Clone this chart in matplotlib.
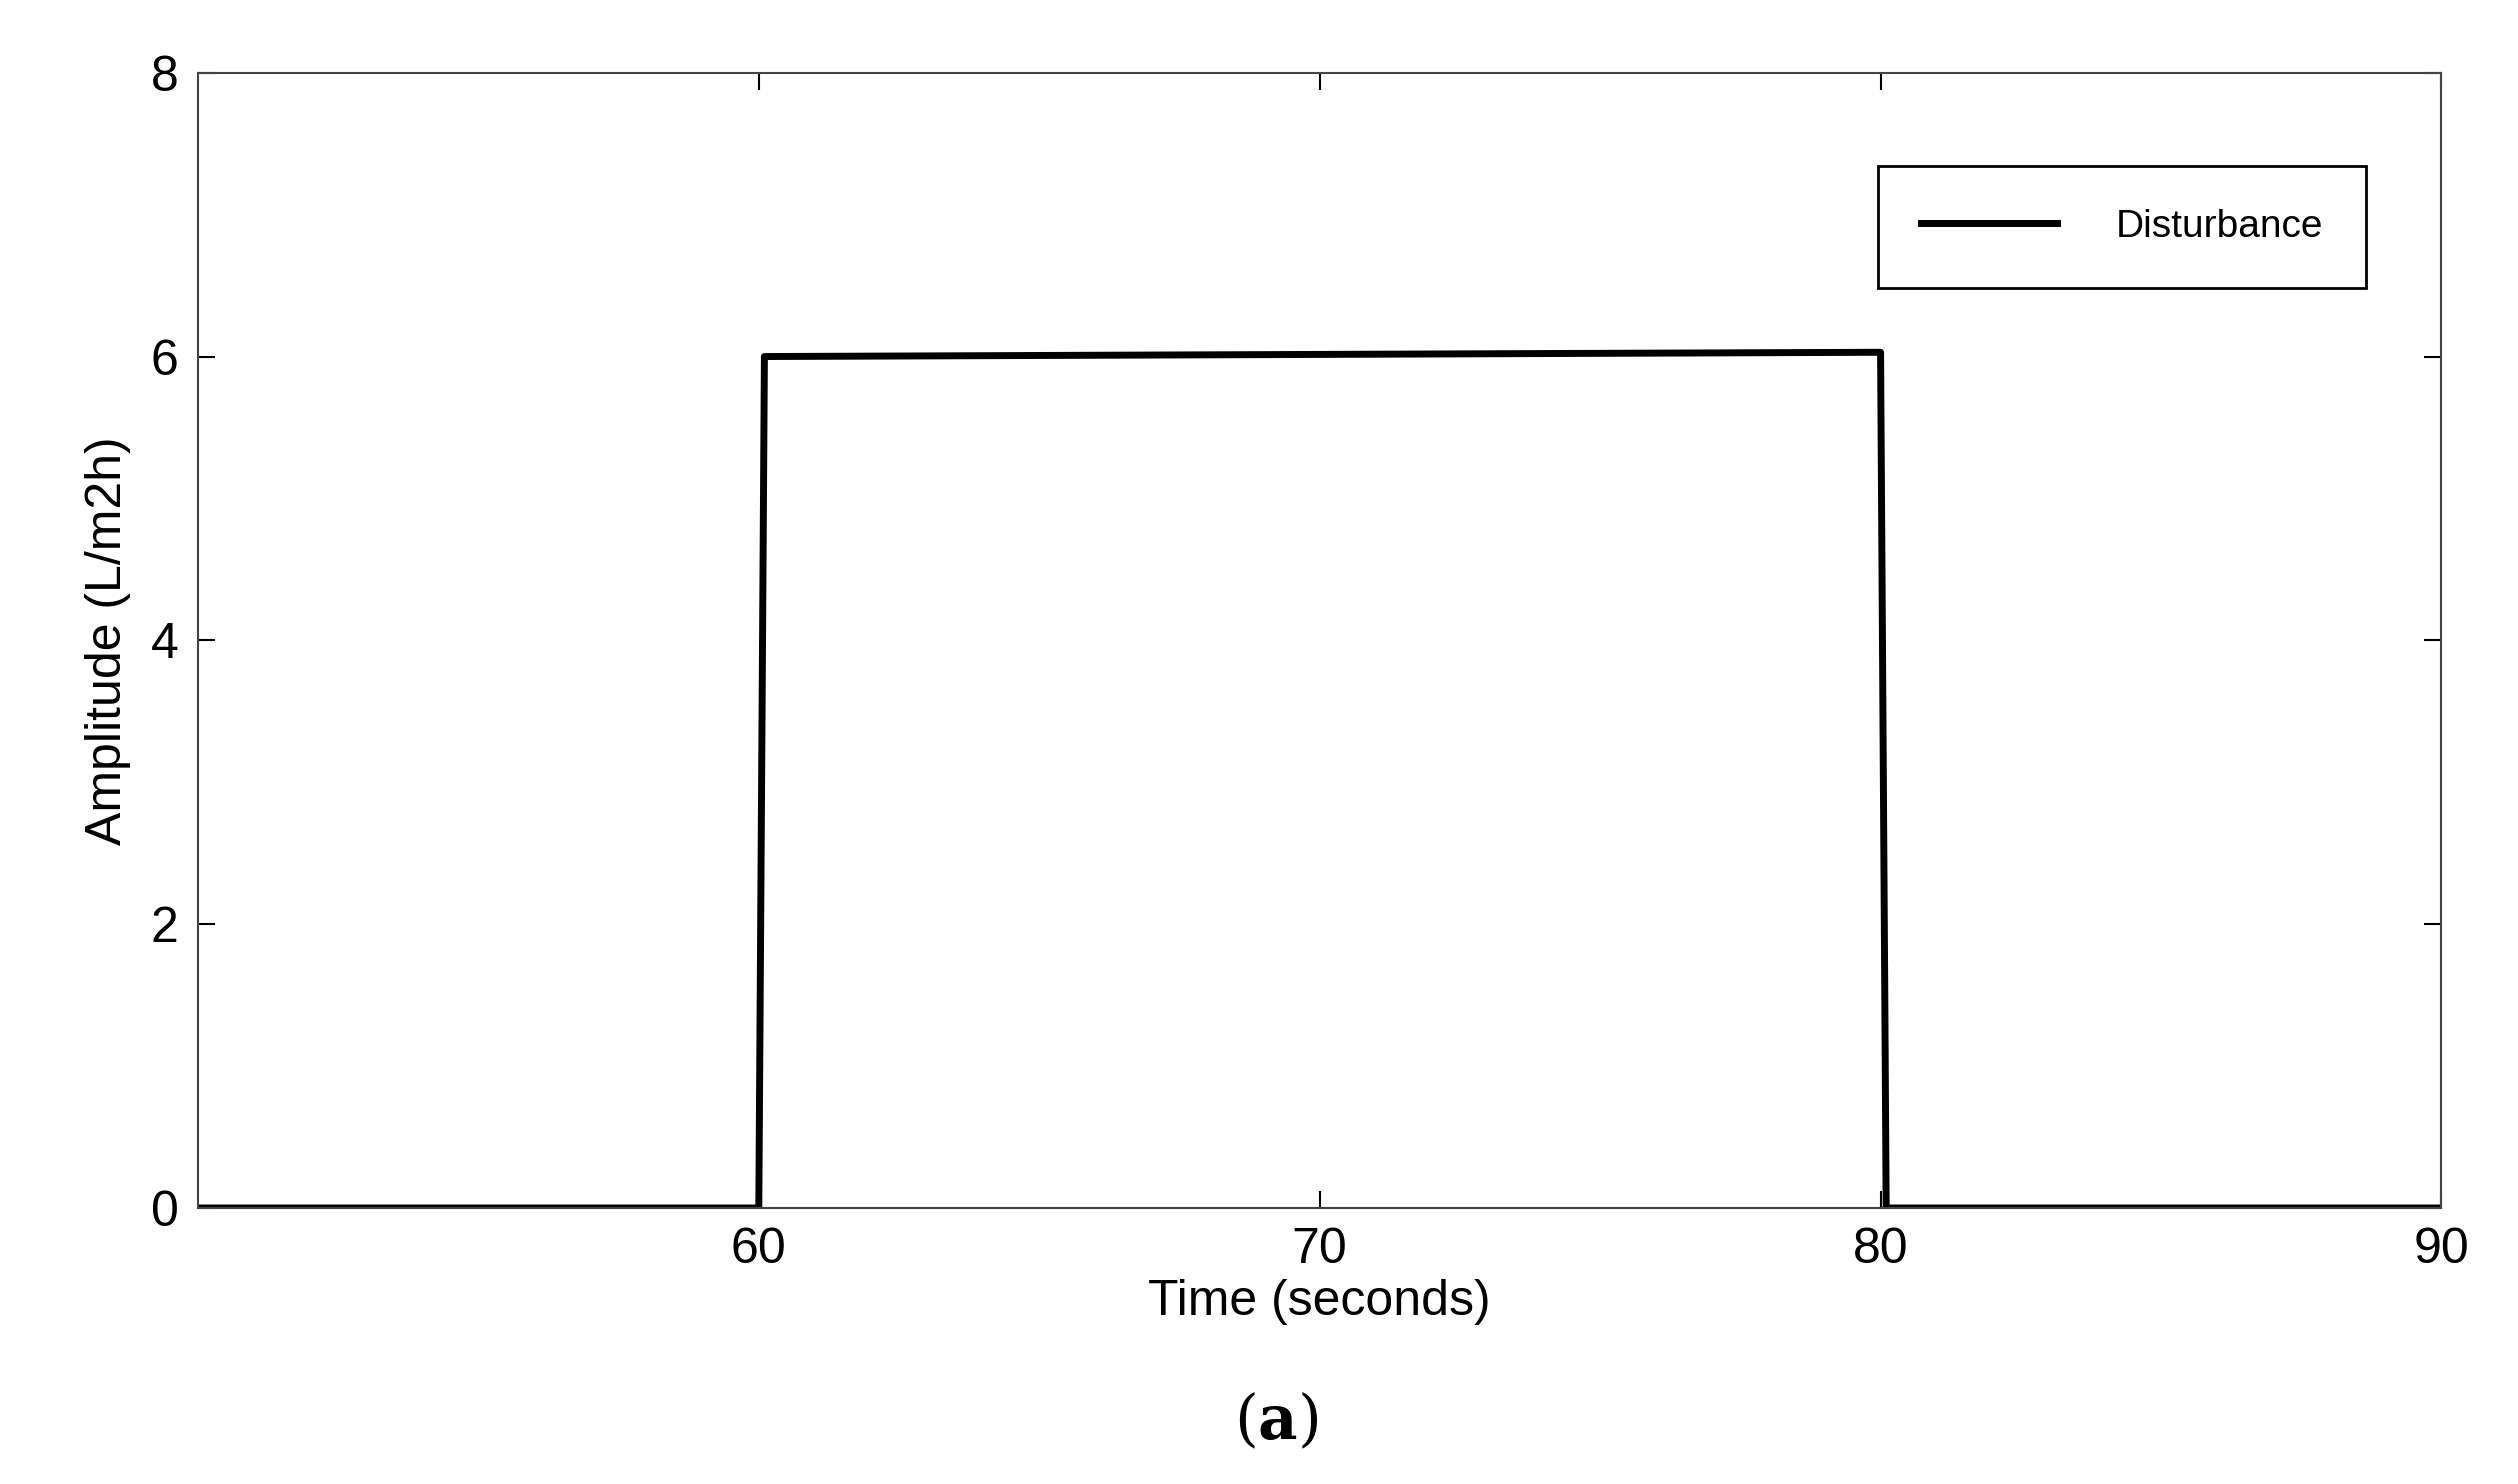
import numpy as np
import matplotlib.pyplot as plt

plt.rcParams['font.family'] = ['Liberation Sans', 'DejaVu Sans']
plt.rcParams['mathtext.fontset'] = 'dejavuserif'

# disturbance signal (time in s, amplitude in L/m2h)
t = [50, 60, 60.1, 80, 80.1, 90]
amp = [0, 0, 6.0, 6.03, 0, 0]
xticks = [60, 70, 80, 90]
yticks = [0, 2, 4, 6, 8]

fig = plt.figure(figsize=(25.18, 14.84), dpi=100)
ax = fig.add_axes([0.0786, 0.186, 0.891, 0.765])
ax.plot(t, amp, color='black', lw=5, label='Disturbance')
ax.set_xlim(50, 90)
ax.set_ylim(0, 8)
ax.set_xticks(xticks)
ax.set_yticks(yticks)
ax.tick_params(direction='in', top=True, right=True, length=12, width=1.5,
               labelsize=36, pad=14)
for s in ax.spines.values():
    s.set_linewidth(1.5)
    s.set_color('#444444')
ax.set_xlabel('Time (seconds)', fontsize=36, labelpad=4)
ax.set_ylabel('Amplitude (L/m2h)', fontsize=36, labelpad=14)
leg = ax.legend(loc='upper right', fontsize=28, fancybox=False, framealpha=1,
                edgecolor='black', borderpad=1.1, handlelength=3.5,
                handletextpad=1.5, bbox_to_anchor=(0.975, 0.935))
leg.get_frame().set_linewidth(2)
fig.text(0.507, 0.03, r'$(\mathbf{a})$', ha='center', fontsize=44)
fig.savefig('out.png')
